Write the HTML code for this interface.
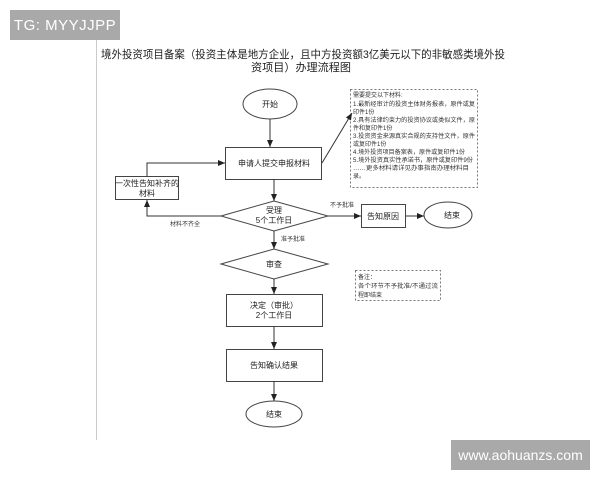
<!DOCTYPE html>
<html><head><meta charset="utf-8"><style>
body{margin:0;width:600px;height:480px;background:#fff;overflow:hidden;position:relative;font-family:"Liberation Sans","Noto Sans CJK SC",sans-serif}
.b{position:absolute;background:#a9a9a9;color:#fff;font-size:15px;display:flex;align-items:center;justify-content:center}
</style></head><body>
<div class="b" style="left:10px;top:10px;width:110px;height:30px;letter-spacing:0.5px">TG: MYYJJPP</div>
<div class="b" style="left:451px;top:440px;width:139px;height:30px;font-size:14px">www.aohuanzs.com</div>
<svg width="600" height="480" style="position:absolute;left:0;top:0" font-family="Liberation Sans, Noto Sans CJK SC, sans-serif">
<defs><marker id="a" markerWidth="8" markerHeight="8" refX="7" refY="4" orient="auto" markerUnits="userSpaceOnUse"><path d="M0,1 L7,4 L0,7 z" fill="#222"/></marker></defs>
<line x1="96.5" y1="40" x2="96.5" y2="440" stroke="#ccc"/>
<text x="101" y="58" font-size="11" fill="#222" textLength="404" lengthAdjust="spacingAndGlyphs">境外投资项目备案（投资主体是地方企业，且中方投资额3亿美元以下的非敏感类境外投</text>
<text x="251" y="71" font-size="11" fill="#222" textLength="100" lengthAdjust="spacingAndGlyphs">资项目）办理流程图</text>
<g stroke="#444" fill="#fff" stroke-width="1">
<ellipse cx="270" cy="104" rx="27" ry="15"/>
<rect x="225.5" y="147.5" width="96" height="32"/>
<rect x="115.5" y="176.5" width="63" height="23"/>
<polygon points="221,216 274,201 328,216 274,231"/>
<polygon points="221,264 274,249 328,264 274,279"/>
<rect x="226.5" y="294.5" width="96" height="32"/>
<rect x="226.5" y="349.5" width="96" height="32"/>
<ellipse cx="274" cy="414" rx="28" ry="13"/>
<rect x="361.5" y="204.5" width="44" height="23"/>
<ellipse cx="448" cy="215" rx="24" ry="13"/>
</g>
<g stroke="#777" fill="none" stroke-dasharray="2,2">
<rect x="350.5" y="89.5" width="127" height="98"/>
<rect x="355.5" y="270.5" width="85" height="30"/>
</g>
<g stroke="#333" fill="none">
<line x1="270" y1="119" x2="270" y2="147" marker-end="url(#a)"/>
<line x1="322" y1="163" x2="352" y2="113" marker-end="url(#a)"/>
<line x1="274" y1="179" x2="274" y2="201" marker-end="url(#a)"/>
<polyline points="221,216 147,216 147,200" marker-end="url(#a)"/>
<polyline points="147,176 147,163 225,163" marker-end="url(#a)"/>
<line x1="274" y1="231" x2="274" y2="249" marker-end="url(#a)"/>
<line x1="328" y1="216" x2="361" y2="216" marker-end="url(#a)"/>
<line x1="406" y1="216" x2="424" y2="216" marker-end="url(#a)"/>
<line x1="274" y1="279" x2="274" y2="294" marker-end="url(#a)"/>
<line x1="274" y1="326" x2="274" y2="349" marker-end="url(#a)"/>
<line x1="274" y1="381" x2="274" y2="401" marker-end="url(#a)"/>
</g>
<g font-size="8" fill="#222" text-anchor="middle">
<text x="270" y="107">开始</text>
<text x="274" y="166">申请人提交申报材料</text>
<text x="147" y="186">一次性告知补齐的</text>
<text x="147" y="196">材料</text>
<text x="274" y="213">受理</text>
<text x="274" y="223">5个工作日</text>
<text x="274" y="267">审查</text>
<text x="274" y="308">决定（审批）</text>
<text x="274" y="318">2个工作日</text>
<text x="274" y="368">告知确认结果</text>
<text x="274" y="417">结束</text>
<text x="383" y="219">告知原因</text>
<text x="452" y="218">结束</text>
</g>
<g font-size="6" fill="#333">
<text x="170" y="226">材料不齐全</text>
<text x="281" y="241">准予批准</text>
<text x="330" y="207">不予批准</text>
<text x="353" y="97">需要提交以下材料:</text>
<text x="353" y="106" textLength="122" lengthAdjust="spacingAndGlyphs">1.最新经审计的投资主体财务报表，原件或复</text>
<text x="353" y="114">印件1份</text>
<text x="353" y="122" textLength="122" lengthAdjust="spacingAndGlyphs">2.具有法律约束力的投资协议或类似文件，原</text>
<text x="353" y="130">件和复印件1份</text>
<text x="353" y="138" textLength="122" lengthAdjust="spacingAndGlyphs">3.投资资金来源真实合规的支持性文件，原件</text>
<text x="353" y="146">或复印件1份</text>
<text x="353" y="154" textLength="112" lengthAdjust="spacingAndGlyphs">4.境外投资项目备案表，原件或复印件1份</text>
<text x="353" y="162" textLength="120" lengthAdjust="spacingAndGlyphs">5.境外投资真实性承诺书，原件或复印件9份</text>
<text x="353" y="170" textLength="116" lengthAdjust="spacingAndGlyphs">……更多材料请详见办事指南办理材料目</text>
<text x="353" y="178">录。</text>
<text x="358" y="279">备注：</text>
<text x="358" y="288" textLength="80" lengthAdjust="spacingAndGlyphs">各个环节不予批准/不通过流</text>
<text x="358" y="297">程即结束</text>
</g>
</svg>
</body></html>
